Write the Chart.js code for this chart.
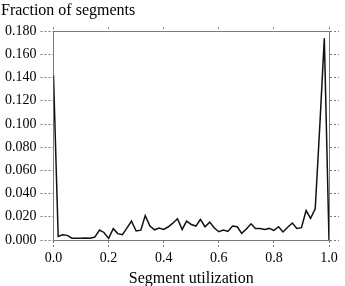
<!DOCTYPE html>
<html>
<head>
<meta charset="utf-8">
<script src="https://cdn.jsdelivr.net/npm/chart.js@4"></script>
<style>
  html, body { margin: 0; padding: 0; background: #fff; }
  #wrap { width: 345px; height: 286px; }
</style>
</head>
<body>
<div id="wrap"><canvas id="utilChart" width="345" height="286"></canvas></div>
<script>
// Segment utilization histogram
const utilization = [0.000, 0.017, 0.033, 0.050, 0.067, 0.083, 0.100, 0.117, 0.133, 0.150,
    0.167, 0.183, 0.200, 0.217, 0.233, 0.250, 0.267, 0.283, 0.300, 0.317,
    0.333, 0.350, 0.367, 0.383, 0.400, 0.417, 0.433, 0.450, 0.467, 0.483,
    0.500, 0.517, 0.533, 0.550, 0.567, 0.583, 0.600, 0.617, 0.633, 0.650,
    0.667, 0.683, 0.700, 0.717, 0.733, 0.750, 0.767, 0.783, 0.800, 0.817,
    0.833, 0.850, 0.867, 0.883, 0.900, 0.917, 0.933, 0.950, 0.967, 0.983, 1.000];
const fraction = [0.142, 0.0030, 0.0045, 0.0040, 0.0015, 0.0015, 0.0015, 0.0017, 0.0015, 0.0025,
    0.0086, 0.0065, 0.0014, 0.0098, 0.0055, 0.0046, 0.0105, 0.0163, 0.0078, 0.0085,
    0.0210, 0.0120, 0.0088, 0.0103, 0.0091, 0.0114, 0.0145, 0.0183, 0.0091, 0.0163,
    0.0134, 0.0120, 0.0177, 0.0114, 0.0154, 0.0106, 0.0071, 0.0086, 0.0074, 0.0120,
    0.0114, 0.0057, 0.0095, 0.0140, 0.0100, 0.0100, 0.0091, 0.0100, 0.0083, 0.0114,
    0.0069, 0.0110, 0.0146, 0.0100, 0.0106, 0.0254, 0.0186, 0.0269, 0.1000, 0.1740, 0.0000];
const xTicks = [0.0, 0.2, 0.4, 0.6, 0.8, 1.0];
const yTicks = [0.000, 0.020, 0.040, 0.060, 0.080, 0.100, 0.120, 0.140, 0.160, 0.180];

const serif = "'Liberation Serif', 'Times New Roman', serif";
const dotted = '#7a7a7a';

const points = utilization.map((u, i) => ({ x: u, y: fraction[i] }));

function frameAxis(pos, tickLen, showLabels, values, digits, pad) {
    return {
        type: 'linear',
        position: pos,
        min: values[0],
        max: values[values.length - 1],
        afterBuildTicks: axis => { axis.ticks = values.map(v => ({ value: v })); },
        grid: {
            drawOnChartArea: false,
            drawTicks: true,
            tickLength: tickLen,
            color: dotted,
            lineWidth: 1,
            tickWidth: 1,
            tickBorderDash: [2, 2],
            tickColor: dotted
        },
        border: { display: true, color: dotted, dash: [2, 2], width: 1 },
        ticks: {
            display: showLabels,
            color: '#000',
            padding: pad,
            font: { family: serif, size: 14 },
            callback: v => Number(v).toFixed(digits)
        }
    };
}

const ctx = document.getElementById('utilChart').getContext('2d');
new Chart(ctx, {
    type: 'line',
    data: {
        datasets: [{
            data: points,
            borderColor: '#111',
            borderWidth: 1.5,
            pointRadius: 0,
            tension: 0,
            fill: false
        }]
    },
    options: {
        responsive: false,
        animation: false,
        layout: { padding: { left: 1, right: 6, top: 0, bottom: 0 } },
        plugins: {
            legend: { display: false },
            tooltip: { enabled: false },
            title: {
                display: true,
                text: 'Fraction of segments',
                align: 'start',
                color: '#000',
                font: { family: serif, size: 16, weight: 'normal' },
                padding: { top: 1, bottom: 7 }
            }
        },
        scales: {
            x: Object.assign(frameAxis('bottom', 8, true, xTicks, 1, 2), {
                title: {
                    display: true,
                    text: 'Segment utilization',
                    color: '#000',
                    font: { family: serif, size: 16 },
                    padding: { top: 0, bottom: -2 }
                }
            }),
            x2: frameAxis('top', 4, false, xTicks, 1, 0),
            y: frameAxis('left', 13, true, yTicks, 3, 4),
            y2: frameAxis('right', 10, false, yTicks, 3, 0)
        }
    }
});
</script>
</body>
</html>
